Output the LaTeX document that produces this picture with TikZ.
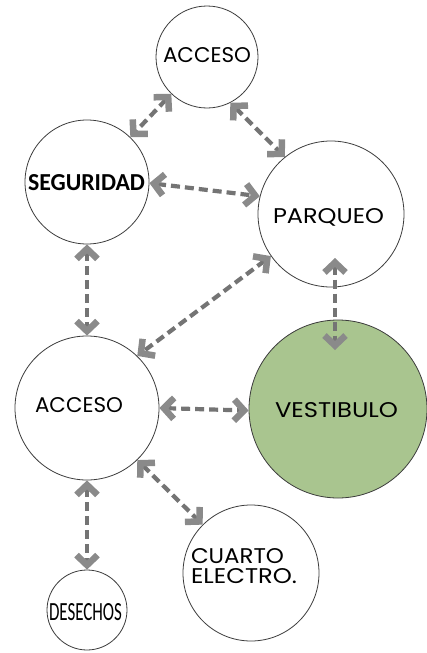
\documentclass[tikz,border=0pt]{standalone}
\usepackage{graphicx}
\usepackage{fontspec}
\setmainfont{Poppins}
\newfontfamily\narrowfont{Carlito}
\usetikzlibrary{arrows.meta}
\definecolor{shaft}{HTML}{747474}
\definecolor{headgray}{HTML}{8A8A8A}
\definecolor{ring}{HTML}{3C3C3C}
\definecolor{vgreen}{HTML}{A9C58F}
\newcommand{\fitlabel}[3]{\resizebox{#1pt}{#2pt}{#3}}
\tikzset{
  chev/.tip={Straight Barb[length=10pt,width=21pt,line width=6.5pt,color=headgray]},
  room/.style={circle,draw=ring,line width=0.8pt,fill=white,inner sep=0pt,minimum size=#1},
  lbl/.style={anchor=base west,inner sep=0pt,outer sep=0pt},
  conn/.style={draw=shaft,line width=4.2pt,dash pattern=on 9pt off 5pt,chev-chev}
}
\begin{document}
\begin{tikzpicture}[x=1pt,y=-1pt]
\useasboundingbox[fill=white] (0,0) rectangle (426,653);
% rooms
\node[room=102pt] (accT) at (207,57) {};
\node[room=124pt] (seg) at (87,182) {};
\node[room=146pt] (par) at (331,214) {};
\node[room=144pt] (accL) at (87,408) {};
\node[room=178pt,fill=vgreen] (vest) at (338,409) {};
\node[room=136pt] (cuarto) at (251,573) {};
\node[room=80pt] (des) at (87,610) {};
% free ends inside circles
\coordinate (pvA) at (335,258);
\coordinate (pvB) at (335,350);
% connectors
\draw[conn] (accT.226) -- (seg.46);
\draw[conn] (accT.297) -- (par.129);
\draw[conn] (seg.-1) -- (par.166);
\draw[conn] (seg.south) -- (accL.north);
\draw[conn] (par.215) -- (accL.46);
\draw[conn] (pvA) -- (pvB);
\draw[conn] (accL.east) -- (vest.181);
\draw[conn] (accL.314) -- (cuarto.135);
\draw[conn] (accL.south) -- (des.north);
% labels
\node[lbl] (tAccT) at (163,62) {\fitlabel{88}{15}{ACCESO}};
\node[lbl] (tSeg) at (28,190) {\fitlabel{117}{16}{\narrowfont\bfseries SEGURIDAD}};
\node[lbl] (tPar) at (273,223) {\fitlabel{111}{15}{PARQUEO}};
\node[lbl] (tAccL) at (35,412) {\fitlabel{88}{15}{ACCESO}};
\node[lbl] (tVest) at (275,417) {\fitlabel{123}{15}{VESTIBULO}};
\node[lbl] (tCua) at (191,563) {\fitlabel{93}{15}{CUARTO}};
\node[lbl] (tEle) at (191,583) {\fitlabel{106}{15}{ELECTRO.}};
\node[lbl] (tDes) at (49,620) {\fitlabel{73}{17}{\narrowfont DESECHOS}};
\end{tikzpicture}
\end{document}
